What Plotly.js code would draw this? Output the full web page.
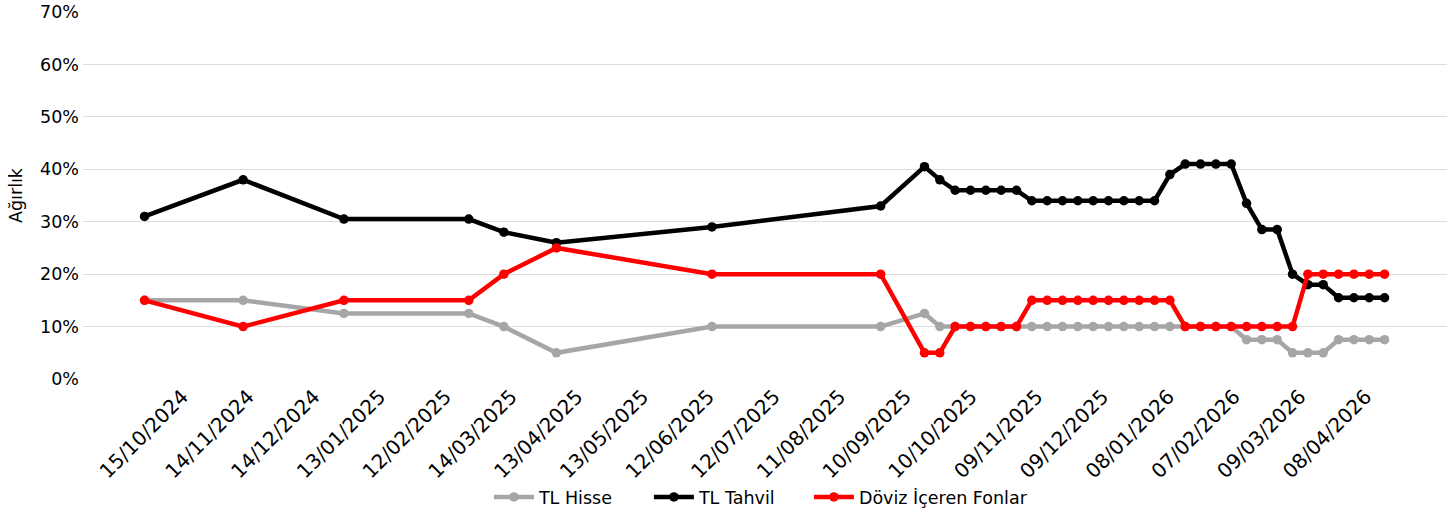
<!DOCTYPE html>
<html>
<head>
<meta charset="utf-8">
<script src="https://cdn.plot.ly/plotly-3.0.1.min.js"></script>
<style>html,body{margin:0;padding:0;background:#fff;}#chart{width:1453px;height:516px;}</style>
</head>
<body>
<div id="chart"></div>
<script>
const dates = [
  "2024-10-15","2024-11-29","2025-01-14","2025-03-12","2025-03-28","2025-04-21","2025-07-01","2025-09-16",
  "2025-10-06","2025-10-13","2025-10-20","2025-10-27","2025-11-03","2025-11-10","2025-11-17","2025-11-24",
  "2025-12-01","2025-12-08","2025-12-15","2025-12-22","2025-12-29","2026-01-05","2026-01-12","2026-01-19",
  "2026-01-26","2026-02-02","2026-02-09","2026-02-16","2026-02-23","2026-03-02","2026-03-09","2026-03-16",
  "2026-03-23","2026-03-30","2026-04-06","2026-04-13","2026-04-20","2026-04-27","2026-05-04"
];
const tlHisse = [15,15,12.5,12.5,10,5,10,10,
  12.5,10,10,10,10,10,10,10,10,10,10,10,10,10,10,10,10,10,10,10,10,
  7.5,7.5,7.5,5,5,5,7.5,7.5,7.5,7.5];
const tlTahvil = [31,38,30.5,30.5,28,26,29,33,
  40.5,38,36,36,36,36,36,34,34,34,34,34,34,34,34,34,39,41,41,41,41,
  33.5,28.5,28.5,20,18,18,15.5,15.5,15.5,15.5];
const doviz = [15,10,15,15,20,25,20,20,
  5,5,10,10,10,10,10,15,15,15,15,15,15,15,15,15,15,10,10,10,10,
  10,10,10,10,20,20,20,20,20,20];
const tickLabels = ["15/10/2024","14/11/2024","14/12/2024","13/01/2025","12/02/2025","14/03/2025",
  "13/04/2025","13/05/2025","12/06/2025","12/07/2025","11/08/2025","10/09/2025","10/10/2025",
  "09/11/2025","09/12/2025","08/01/2026","07/02/2026","09/03/2026","08/04/2026"];
const yTicks = [0,10,20,30,40,50,60,70];
const yTickLabels = ["0%","10%","20%","30%","40%","50%","60%","70%"];

const tickVals = tickLabels.map(s => { const p = s.split("/"); return p[2]+"-"+p[1]+"-"+p[0]; });
const FONT = "DejaVu Sans, sans-serif";

const mk = (name, y, color, lg) => ({
  type: "scatter", mode: "lines+markers", name: name, x: dates, y: y, legend: lg,
  line: {color: color, width: 4.5}, marker: {color: color, size: 9.5}
});

const data = [
  mk("TL Hisse", tlHisse, "#a6a6a6", "legend"),
  mk("TL Tahvil", tlTahvil, "#000000", "legend2"),
  mk("Döviz İçeren Fonlar", doviz, "#ff0000", "legend3")
];

const lgBase = (x) => ({orientation: "h", x: x, xanchor: "left", yref: "container", y: 0.0368, yanchor: "middle",
  bgcolor: "rgba(0,0,0,0)", font: {family: FONT, size: 17.5, color: "#000"}, itemwidth: 40});

const layout = {
  width: 1453, height: 516,
  margin: {l: 83, r: 6, t: 12, b: 137},
  paper_bgcolor: "#ffffff", plot_bgcolor: "#ffffff",
  font: {family: FONT, size: 18, color: "#000000"},
  showlegend: true,
  legend: lgBase(0.2976),
  legend2: lgBase(0.4149),
  legend3: lgBase(0.5322),
  xaxis: {
    type: "date",
    range: ["2024-09-16 22:00", "2026-06-01 12:00"],
    tickmode: "array", tickvals: tickVals, ticktext: tickLabels,
    tickangle: -45, showgrid: false, zeroline: false, showline: false,
    ticks: "", automargin: false, ticklabelshift: 38, ticklabelstandoff: 1,
    tickfont: {family: FONT, size: 20, color: "#000"}
  },
  yaxis: {
    range: [0, 70], tickmode: "array", tickvals: yTicks, ticktext: yTickLabels,
    showgrid: true, gridcolor: "#dedede", gridwidth: 1, zeroline: false, showline: false,
    ticks: "", automargin: false, ticklabelstandoff: 3,
    tickfont: {family: FONT, size: 17.5, color: "#000"},
    title: {text: "Ağırlık", font: {family: FONT, size: 17.5, color: "#000"}, standoff: 12}
  }
};

Plotly.newPlot("chart", data, layout, {displayModeBar: false, staticPlot: true});
</script>
</body>
</html>
